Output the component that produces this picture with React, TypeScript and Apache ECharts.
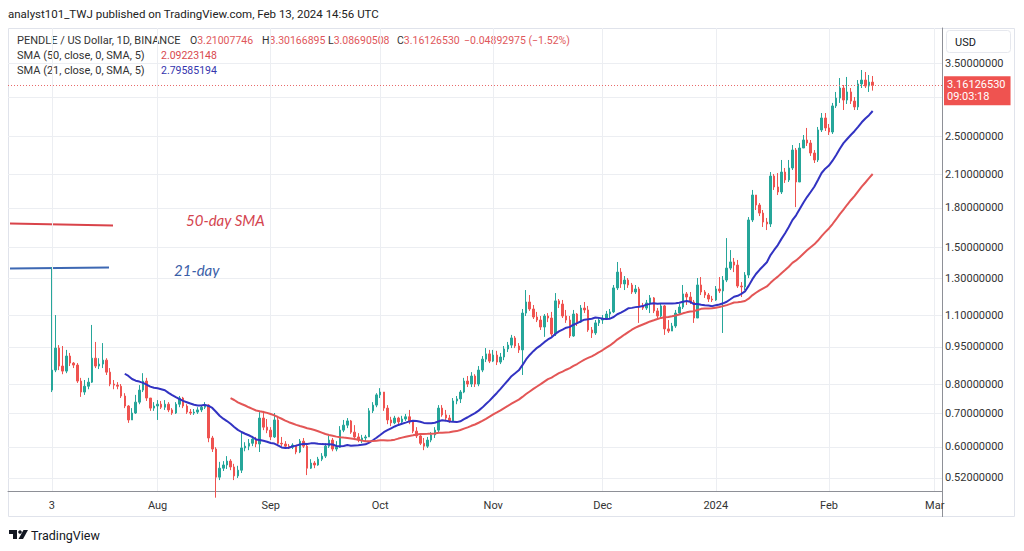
import React, { useEffect, useRef } from "react";
import * as echarts from "echarts";

// ---------- data ----------
const FIRST_DAY_UTC = Date.UTC(2023, 6, 3); // Jul 3 2023
const DAY_MS = 86400000;
const LEAD_SLOTS = 12; // empty days shown before the first candle
const TOTAL_SLOTS = 257; // days on the time axis

const FIRST_OPEN = 0.779;

const CLOSE = [
  0.854, 0.945, 0.870, 0.850, 0.911, 0.882, 0.874, 0.812, 0.772, 0.793,
  0.808, 0.902, 0.870, 0.878, 0.894, 0.846, 0.801, 0.797, 0.793, 0.758,
  0.724, 0.679, 0.701, 0.737, 0.779, 0.812, 0.751, 0.717, 0.724, 0.730,
  0.720, 0.730, 0.711, 0.701, 0.730, 0.751, 0.724, 0.704, 0.701, 0.704,
  0.711, 0.720, 0.727, 0.625, 0.594, 0.522, 0.544, 0.552, 0.562, 0.547,
  0.525, 0.539, 0.597, 0.602, 0.610, 0.622, 0.608, 0.685, 0.657, 0.648,
  0.628, 0.679, 0.610, 0.608, 0.602, 0.599, 0.605, 0.586, 0.616, 0.602,
  0.544, 0.557, 0.552, 0.567, 0.575, 0.602, 0.619, 0.594, 0.599, 0.648,
  0.663, 0.676, 0.642, 0.628, 0.619, 0.625, 0.628, 0.708, 0.727, 0.762,
  0.772, 0.717, 0.679, 0.670, 0.685, 0.673, 0.682, 0.689, 0.673, 0.645,
  0.631, 0.610, 0.602, 0.619, 0.634, 0.648, 0.717, 0.695, 0.685, 0.676,
  0.741, 0.748, 0.772, 0.812, 0.801, 0.831, 0.801, 0.854, 0.898, 0.920,
  0.890, 0.915, 0.886, 0.907, 0.941, 0.958, 0.990, 0.954, 0.937, 1.110,
  1.168, 1.131, 1.090, 1.075, 1.041, 1.095, 1.085, 1.008, 1.174, 1.157,
  1.095, 1.075, 0.999, 1.105, 1.065, 1.136, 1.126, 1.027, 1.013, 1.061,
  1.075, 1.085, 1.105, 1.116, 1.246, 1.340, 1.269, 1.292, 1.263, 1.223,
  1.240, 1.147, 1.136, 1.163, 1.190, 1.121, 1.095, 1.147, 1.032, 1.022,
  1.046, 1.110, 1.141, 1.212, 1.195, 1.168, 1.085, 1.263, 1.223, 1.206,
  1.184, 1.179, 1.240, 1.229, 1.292, 1.365, 1.404, 1.384, 1.257, 1.252,
  1.322, 1.703, 1.910, 1.824, 1.758, 1.687, 1.672, 2.084, 1.982, 1.937,
  2.123, 2.047, 2.163, 2.349, 2.028, 2.371, 2.460, 2.426, 2.317, 2.244,
  2.576, 2.722, 2.600, 2.552, 2.877, 2.983, 3.124, 2.956, 3.068, 2.942,
  2.864, 3.183, 3.241, 3.153, 3.21007746, 3.1612653,
];

const HIGH = [
  1.371, 1.100, 0.958, 0.954, 0.937, 0.924, 0.886, 0.882, 0.824, 0.816,
  0.824, 1.051, 0.972, 0.902, 0.967, 0.902, 0.862, 0.816, 0.808, 0.801,
  0.768, 0.727, 0.717, 0.762, 0.797, 0.842, 0.824, 0.751, 0.737, 0.744,
  0.741, 0.744, 0.737, 0.717, 0.737, 0.758, 0.755, 0.730, 0.714, 0.714,
  0.720, 0.727, 0.737, 0.730, 0.631, 0.599, 0.560, 0.562, 0.575, 0.567,
  0.555, 0.550, 0.642, 0.613, 0.622, 0.631, 0.628, 0.704, 0.708, 0.682,
  0.657, 0.701, 0.689, 0.628, 0.616, 0.608, 0.610, 0.605, 0.622, 0.625,
  0.610, 0.567, 0.562, 0.573, 0.583, 0.610, 0.631, 0.625, 0.616, 0.660,
  0.679, 0.685, 0.679, 0.663, 0.639, 0.634, 0.634, 0.717, 0.737, 0.768,
  0.786, 0.772, 0.727, 0.689, 0.692, 0.689, 0.692, 0.698, 0.711, 0.679,
  0.657, 0.639, 0.625, 0.628, 0.642, 0.657, 0.727, 0.727, 0.711, 0.695,
  0.751, 0.758, 0.779, 0.824, 0.831, 0.846, 0.838, 0.870, 0.911, 0.945,
  0.937, 0.937, 0.933, 0.924, 0.954, 0.972, 1.004, 0.999, 0.967, 1.131,
  1.234, 1.206, 1.152, 1.116, 1.095, 1.105, 1.110, 1.116, 1.217, 1.184,
  1.179, 1.126, 1.095, 1.126, 1.110, 1.152, 1.168, 1.147, 1.041, 1.075,
  1.090, 1.100, 1.121, 1.131, 1.263, 1.404, 1.365, 1.316, 1.304, 1.275,
  1.263, 1.252, 1.163, 1.179, 1.206, 1.195, 1.136, 1.163, 1.152, 1.075,
  1.061, 1.126, 1.157, 1.263, 1.223, 1.223, 1.179, 1.304, 1.310, 1.234,
  1.217, 1.201, 1.257, 1.310, 1.316, 1.567, 1.483, 1.430, 1.417, 1.280,
  1.340, 1.726, 1.955, 1.910, 1.841, 1.783, 1.719, 2.123, 2.104, 2.113,
  2.244, 2.163, 2.244, 2.404, 2.371, 2.426, 2.517, 2.600, 2.460, 2.349,
  2.612, 2.785, 2.785, 2.648, 2.917, 3.068, 3.271, 3.168, 3.287, 3.124,
  2.997, 3.241, 3.394, 3.363, 3.317, 3.30166895,
];

const LOW = [
  0.772, 0.846, 0.854, 0.838, 0.842, 0.870, 0.862, 0.805, 0.755, 0.762,
  0.782, 0.805, 0.862, 0.858, 0.862, 0.835, 0.793, 0.782, 0.782, 0.751,
  0.717, 0.670, 0.679, 0.698, 0.730, 0.772, 0.741, 0.708, 0.708, 0.679,
  0.714, 0.711, 0.704, 0.695, 0.698, 0.720, 0.717, 0.698, 0.695, 0.695,
  0.698, 0.704, 0.714, 0.613, 0.586, 0.475, 0.515, 0.537, 0.542, 0.539,
  0.515, 0.520, 0.532, 0.588, 0.591, 0.602, 0.599, 0.586, 0.648, 0.639,
  0.619, 0.625, 0.602, 0.602, 0.597, 0.594, 0.594, 0.580, 0.583, 0.597,
  0.527, 0.542, 0.544, 0.550, 0.562, 0.570, 0.597, 0.588, 0.588, 0.597,
  0.642, 0.654, 0.637, 0.619, 0.613, 0.610, 0.616, 0.628, 0.701, 0.720,
  0.751, 0.708, 0.666, 0.660, 0.666, 0.666, 0.670, 0.676, 0.666, 0.639,
  0.625, 0.605, 0.591, 0.597, 0.613, 0.625, 0.639, 0.689, 0.679, 0.670,
  0.673, 0.730, 0.734, 0.768, 0.790, 0.790, 0.790, 0.793, 0.846, 0.886,
  0.882, 0.886, 0.874, 0.878, 0.894, 0.928, 0.945, 0.945, 0.924, 0.835,
  1.095, 1.121, 1.080, 1.065, 1.027, 0.995, 1.065, 0.999, 0.999, 1.136,
  1.085, 1.061, 0.990, 0.995, 1.046, 1.061, 1.110, 1.018, 0.990, 1.004,
  1.046, 1.056, 1.075, 1.085, 1.110, 1.234, 1.246, 1.234, 1.246, 1.212,
  1.212, 1.061, 1.126, 1.126, 1.110, 1.110, 1.085, 1.085, 1.004, 1.013,
  1.022, 1.037, 1.100, 1.131, 1.152, 1.157, 1.061, 1.085, 1.206, 1.190,
  1.168, 1.168, 1.174, 1.217, 1.013, 1.280, 1.353, 1.340, 1.246, 1.195,
  1.234, 1.304, 1.687, 1.783, 1.734, 1.649, 1.626, 1.649, 1.955, 1.910,
  1.919, 2.019, 2.028, 2.143, 1.807, 2.028, 2.382, 2.393, 2.286, 2.213,
  2.223, 2.552, 2.564, 2.517, 2.529, 2.850, 2.917, 2.824, 2.903, 2.903,
  2.824, 2.824, 3.124, 3.124, 3.068, 3.08690508,
];

const TIME_LABELS: Record<string, string> = {
  "2023-07-03": "3",
  "2023-08-01": "Aug",
  "2023-09-01": "Sep",
  "2023-10-01": "Oct",
  "2023-11-01": "Nov",
  "2023-12-01": "Dec",
  "2024-01-01": "2024",
  "2024-02-01": "Feb",
  "2024-03-01": "Mar",
};

// grid levels of the price scale; the 3.0 label sits under the last-price tag
const PRICE_GRID = [0.52, 0.6, 0.7, 0.8, 0.95, 1.1, 1.3, 1.5, 1.8, 2.1, 2.5, 3.0, 3.5];
const PRICE_LABELS = [0.52, 0.6, 0.7, 0.8, 0.95, 1.1, 1.3, 1.5, 1.8, 2.1, 2.5, 3.5];
const PRICE_MIN = 0.4898;
const PRICE_MAX = 4.117;

const LAST_PRICE = 3.1612653;
const COUNTDOWN = "09:03:18";
const SMA_SLOW = 50;
const SMA_FAST = 21;

const HEADER = "analyst101_TWJ published on TradingView.com, Feb 13, 2024 14:56 UTC";
const SYMBOL_TITLE = "PENDLE / US Dollar, 1D, BINANCE";
const OHLC_TEXT = [
  ["O", "3.21007746"],
  ["H", "3.30166895"],
  ["L", "3.08690508"],
  ["C", "3.16126530"],
];
const CHANGE_TEXT = "\u22120.04892975 (\u22121.52%)";
const SMA_SLOW_TITLE = "SMA (50, close, 0, SMA, 5)";
const SMA_SLOW_VALUE = "2.09223148";
const SMA_FAST_TITLE = "SMA (21, close, 0, SMA, 5)";
const SMA_FAST_VALUE = "2.79585194";

// ---------- colours ----------
const UP = "#26a69a";
const DOWN = "#ef5350";
const SMA_FAST_COLOR = "#3233c2";
const SMA_SLOW_COLOR = "#e35656";
const GRID_COLOR = "#eceef2";
const AXIS_COLOR = "#8e9097";
const TEXT = "#333333";
const FONT = "Roboto";

function buildCategories(): string[] {
  const out: string[] = [];
  for (let k = 0; k < TOTAL_SLOTS; k++) {
    const d = new Date(FIRST_DAY_UTC + (k - LEAD_SLOTS) * DAY_MS);
    out.push(d.toISOString().slice(0, 10));
  }
  return out;
}

function buildCandles() {
  const out: number[][] = [];
  for (let i = 0; i < CLOSE.length; i++) {
    const o = i === 0 ? FIRST_OPEN : CLOSE[i - 1];
    const c = CLOSE[i];
    const h = Math.max(HIGH[i], o, c);
    const l = Math.min(LOW[i], o, c);
    out.push([i + LEAD_SLOTS, Math.log(o), Math.log(c), Math.log(l), Math.log(h)]);
  }
  return out;
}

function buildSma(n: number) {
  const out: number[][] = [];
  for (let i = n - 1; i < CLOSE.length; i++) {
    let s = 0;
    for (let j = i - n + 1; j <= i; j++) s += CLOSE[j];
    out.push([i + LEAD_SLOTS, Math.log(s / n)]);
  }
  return out;
}

function priceLabel(v: number): string {
  let best = PRICE_GRID[0];
  for (const t of PRICE_GRID) {
    if (Math.abs(Math.log(t) - v) < Math.abs(Math.log(best) - v)) best = t;
  }
  return best.toFixed(8);
}

export default function App() {
  const ref = useRef<HTMLDivElement>(null);

  useEffect(() => {
    if (!ref.current) return;
    const chart = echarts.init(ref.current, undefined, { renderer: "svg" });
    const cats = buildCategories();
    const isLabelDay = (_i: number, v: string) => Object.prototype.hasOwnProperty.call(TIME_LABELS, v);

    const legendText = (x: number, y: number, text: string, fill: string, size = 11) => ({
      type: "text",
      x,
      y,
      silent: true,
      style: { text, fill, fontSize: size, fontFamily: FONT, verticalAlign: "middle" },
    });

    const ohlcX = [190, 262, 328, 397];

    const option: any = {
      animation: false,
      backgroundColor: "#ffffff",
      textStyle: { fontFamily: FONT },
      grid: { left: 8, right: 82, top: 28, bottom: 60 },
      xAxis: {
        type: "category",
        data: cats,
        boundaryGap: false,
        axisLine: { show: true, onZero: false, lineStyle: { color: AXIS_COLOR, width: 1 } },
        axisTick: { show: false },
        axisLabel: {
          interval: isLabelDay,
          formatter: (v: string) => TIME_LABELS[v] ?? "",
          color: TEXT,
          fontSize: 11,
          fontFamily: FONT,
          margin: 9,
        },
        splitLine: { show: true, interval: isLabelDay, lineStyle: { color: GRID_COLOR, width: 1 } },
      },
      yAxis: {
        type: "value",
        position: "right",
        min: Math.log(PRICE_MIN),
        max: Math.log(PRICE_MAX),
        axisLine: { show: true, onZero: false, lineStyle: { color: AXIS_COLOR, width: 1 } },
        axisTick: { show: false, customValues: PRICE_GRID.map((t) => Math.log(t)) },
        axisLabel: {
          customValues: PRICE_LABELS.map((t) => Math.log(t)),
          formatter: (v: number) => priceLabel(v),
          color: TEXT,
          fontSize: 11,
          fontFamily: FONT,
          margin: 3,
        },
        splitLine: { show: true, lineStyle: { color: GRID_COLOR, width: 1 } },
      },
      series: [
        {
          type: "candlestick",
          data: buildCandles(),
          encode: { x: 0, y: [1, 2, 3, 4] },
          barWidth: 2,
          silent: true,
          itemStyle: { color: UP, color0: DOWN, borderColor: UP, borderColor0: DOWN, borderWidth: 1 },
          markLine: {
            silent: true,
            symbol: ["none", "none"],
            data: [{ yAxis: Math.log(LAST_PRICE) }],
            lineStyle: { color: "#e86a6a", type: [1, 2], width: 1 },
            label: {
              show: true,
              position: "end",
              distance: 2,
              formatter: LAST_PRICE.toFixed(8) + "\n" + COUNTDOWN,
              backgroundColor: DOWN,
              color: "#ffffff",
              fontSize: 11,
              fontFamily: FONT,
              lineHeight: 12,
              padding: [3, 5, 2, 3],
              offset: [0, 5],
            },
          },
        },
        {
          type: "line",
          data: buildSma(SMA_FAST),
          symbol: "none",
          silent: true,
          lineStyle: { color: SMA_FAST_COLOR, width: 2 },
          z: 3,
        },
        {
          type: "line",
          data: buildSma(SMA_SLOW),
          symbol: "none",
          silent: true,
          lineStyle: { color: SMA_SLOW_COLOR, width: 2 },
          z: 3,
        },
      ],
      graphic: [
        // frame
        {
          type: "rect",
          silent: true,
          shape: { x: 8.5, y: 28.5, width: 1006, height: 488 },
          style: { fill: "none", stroke: "#e0e3eb", lineWidth: 1 },
        },
        {
          type: "line",
          silent: true,
          shape: { x1: 942.5, y1: 491, x2: 942.5, y2: 517 },
          style: { stroke: AXIS_COLOR, lineWidth: 1 },
        },
        // USD box
        {
          type: "rect",
          silent: true,
          shape: { x: 946.5, y: 30.5, width: 64, height: 22, r: 3 },
          style: { fill: "#ffffff", stroke: "#e6e8ee", lineWidth: 1 },
        },
        {
          type: "text",
          silent: true,
          x: 955,
          y: 42,
          style: { text: "USD", fill: "#131722", fontSize: 11, fontFamily: FONT, verticalAlign: "middle" },
        },
        // header
        {
          type: "text",
          silent: true,
          x: 8,
          y: 14,
          style: { text: HEADER, fill: "#222222", fontSize: 11.5, fontFamily: FONT, verticalAlign: "middle" },
        },
        legendText(17, 40, SYMBOL_TITLE, TEXT),
        ...OHLC_TEXT.map(([l, v], i) => ({
          type: "text",
          silent: true,
          x: ohlcX[i],
          y: 40,
          style: {
            text: `{l|${l}}{v|${v}}`,
            fontSize: 10.5,
            fontFamily: FONT,
            verticalAlign: "middle",
            rich: {
              l: { fill: TEXT, fontSize: 10.5, fontFamily: FONT },
              v: { fill: "#e0575b", fontSize: 10.5, fontFamily: FONT },
            },
          },
        })),
        legendText(464, 40, CHANGE_TEXT, "#e0575b", 10.5),
        legendText(17, 55, SMA_SLOW_TITLE, TEXT),
        legendText(161, 55, SMA_SLOW_VALUE, "#d9494e", 10.5),
        legendText(17, 70, SMA_FAST_TITLE, TEXT),
        legendText(161, 70, SMA_FAST_VALUE, "#3535ad", 10.5),
        // hand-drawn annotations
        {
          type: "line",
          silent: true,
          shape: { x1: 10, y1: 223.5, x2: 113, y2: 225.5 },
          style: { stroke: "#d9434a", lineWidth: 2 },
        },
        {
          type: "text",
          silent: true,
          x: 186,
          y: 220,
          style: {
            text: "50-day SMA",
            fill: "#d4444f",
            fontSize: 15,
            fontStyle: "italic",
            fontFamily: "Lato",
            verticalAlign: "middle",
          },
        },
        {
          type: "line",
          silent: true,
          shape: { x1: 10, y1: 268.5, x2: 109, y2: 267.5 },
          style: { stroke: "#3d68b3", lineWidth: 2 },
        },
        {
          type: "text",
          silent: true,
          x: 174,
          y: 270,
          style: {
            text: "21-day",
            fill: "#3a5ea8",
            fontSize: 15,
            fontStyle: "italic",
            fontFamily: "Lato",
            verticalAlign: "middle",
          },
        },
        // TradingView footer logo
        {
          type: "polygon",
          silent: true,
          shape: { points: [[9, 530], [17, 530], [17, 539], [13, 539], [13, 534], [9, 534]] },
          style: { fill: "#131722" },
        },
        {
          type: "circle",
          silent: true,
          shape: { cx: 20, cy: 532, r: 1.8 },
          style: { fill: "#131722" },
        },
        {
          type: "polygon",
          silent: true,
          shape: { points: [[23.5, 530], [28, 530], [23, 539], [18.5, 539]] },
          style: { fill: "#131722" },
        },
        {
          type: "text",
          silent: true,
          x: 31,
          y: 535,
          style: { text: "TradingView", fill: "#131722", fontSize: 12.5, fontFamily: FONT, verticalAlign: "middle" },
        },
      ],
    };

    chart.setOption(option);
    return () => chart.dispose();
  }, []);

  return (
    <div
      ref={ref}
      style={{ position: "fixed", left: 0, top: 0, width: 1024, height: 551, background: "#ffffff" }}
    />
  );
}
